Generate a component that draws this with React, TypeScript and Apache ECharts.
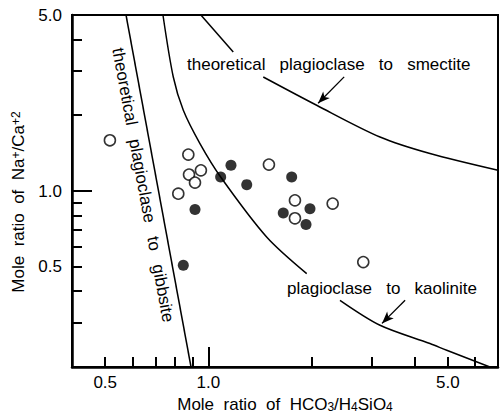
import React, { useEffect, useRef } from 'react';
import * as echarts from 'echarts';

// Open circles (Mole ratio HCO3/H4SiO4 vs Na+/Ca+2)
const openX = [0.516, 0.874, 0.951, 0.878, 0.914, 0.817, 1.502, 1.789, 1.789, 2.305, 2.831];
const openY = [1.59, 1.395, 1.208, 1.162, 1.08, 0.976, 1.273, 0.918, 0.779, 0.891, 0.522];
// Filled circles
const filledX = [1.086, 1.164, 1.294, 1.75, 0.914, 1.654, 1.979, 1.927, 0.845];
const filledY = [1.137, 1.265, 1.06, 1.137, 0.844, 0.818, 0.851, 0.736, 0.507];

// Theoretical curves
const gibbsiteX = [0.575, 0.89];
const gibbsiteY = [5.0, 0.2];
const kaoliniteUpperX = [0.737, 0.79, 0.845, 0.945, 1.086, 1.479, 1.936];
const kaoliniteUpperY = [5.0, 2.836, 2.092, 1.543, 1.137, 0.657, 0.47];
const kaoliniteLowerX = [2.421, 3.168, 4.432, 4.96, 6.63];
const kaoliniteLowerY = [0.368, 0.293, 0.248, 0.233, 0.2];
const smectiteUpperX = [0.951, 1.182];
const smectiteUpperY = [5.0, 3.565];
const smectiteLowerX = [1.446, 2.07, 3.168, 4.432, 7.0];
const smectiteLowerY = [2.836, 2.19, 1.638, 1.408, 1.208];

// Arrows (tail -> head)
const smectiteArrow = [[2.49, 2.84], [2.09, 2.23]];
const kaoliniteArrow = [[3.75, 0.368], [3.21, 0.298]];

// Axes
const xMin = 0.4;
const xMax = 7;
const yMin = 0.2;
const yMax = 5;
const xLabelValues = [0.5, 1, 5];
const yLabelValues = [0.5, 1, 5];
const xMinorTicks = [0.5, 0.6, 0.7, 0.8, 0.9, 2, 3, 4, 5, 6];
const yMinorTicks = [0.3, 0.4, 0.5, 0.6, 0.7, 0.8, 0.9, 2, 3, 4];
const majorTicks = [1];

const FONT = '"Liberation Sans", Arial, Helvetica, sans-serif';

const zip = (xs: number[], ys: number[]) => xs.map((x, i) => [x, ys[i]]);

export default function App() {
  const ref = useRef<HTMLDivElement>(null);
  useEffect(() => {
    if (!ref.current) return;
    const chart = echarts.init(ref.current, undefined, { renderer: 'svg' });
    const lineBase = {
      type: 'line',
      showSymbol: false,
      symbol: 'none',
      smooth: 0.3,
      silent: true,
      xAxisIndex: 0,
      yAxisIndex: 0,
      lineStyle: { color: '#000', width: 1.5 },
      z: 3,
    };
    const axisCommon = {
      type: 'log',
      logBase: 10,
      splitLine: { show: false },
      minorTick: { show: false },
    };
    chart.setOption({
      animation: false,
      backgroundColor: '#fff',
      grid: {
        left: 72,
        right: 3,
        top: 15,
        bottom: 50,
        show: true,
        borderColor: '#000',
        borderWidth: 2,
        outerBoundsMode: 'none',
      },
      xAxis: [
        {
          ...axisCommon,
          min: xMin,
          max: xMax,
          position: 'bottom',
          axisLine: { show: true, lineStyle: { color: '#000', width: 2.5 } },
          axisTick: {
            show: true,
            inside: true,
            length: 10,
            customValues: xMinorTicks,
            lineStyle: { color: '#000', width: 2 },
          },
          axisLabel: {
            show: true,
            customValues: xLabelValues,
            formatter: (v: number) => Number(v).toFixed(1),
            color: '#000',
            fontSize: 17,
            fontFamily: FONT,
            margin: 7,
          },
          name: 'Mole  ratio  of  HCO{sub|3}/H{sub|4}SiO{sub|4}',
          nameLocation: 'middle',
          nameGap: 28,
          nameTextStyle: {
            color: '#000',
            fontSize: 17,
            fontFamily: FONT,
            rich: {
              sub: { fontSize: 12, fontFamily: FONT, color: '#000', verticalAlign: 'bottom', lineHeight: 8 },
            },
          },
        },
        {
          ...axisCommon,
          min: xMin,
          max: xMax,
          position: 'bottom',
          axisLine: { show: false },
          axisLabel: { show: false },
          axisTick: {
            show: true,
            inside: true,
            length: 20,
            customValues: majorTicks,
            lineStyle: { color: '#000', width: 2 },
          },
        },
      ],
      yAxis: [
        {
          ...axisCommon,
          min: yMin,
          max: yMax,
          position: 'left',
          axisLine: { show: true, lineStyle: { color: '#000', width: 2.5 } },
          axisTick: {
            show: true,
            inside: true,
            length: 10,
            customValues: yMinorTicks,
            lineStyle: { color: '#000', width: 2 },
          },
          axisLabel: {
            show: true,
            customValues: yLabelValues,
            formatter: (v: number) => Number(v).toFixed(1),
            color: '#000',
            fontSize: 17,
            fontFamily: FONT,
            margin: 10,
          },
          name: 'Mole  ratio  of  Na{sup|+}/Ca{sup|+2}',
          nameLocation: 'middle',
          nameGap: 36,
          nameTextStyle: {
            color: '#000',
            fontSize: 17,
            fontFamily: FONT,
            padding: [0, 22, 0, 0],
            rich: {
              sup: { fontSize: 12, fontFamily: FONT, color: '#000', verticalAlign: 'top', lineHeight: 8 },
            },
          },
        },
        {
          ...axisCommon,
          min: yMin,
          max: yMax,
          position: 'left',
          axisLine: { show: false },
          axisLabel: { show: false },
          axisTick: {
            show: true,
            inside: true,
            length: 20,
            customValues: majorTicks,
            lineStyle: { color: '#000', width: 2 },
          },
        },
      ],
      series: [
        { ...lineBase, name: 'gibbsite', smooth: false, data: zip(gibbsiteX, gibbsiteY) },
        { ...lineBase, name: 'kaolinite-upper', data: zip(kaoliniteUpperX, kaoliniteUpperY) },
        {
          ...lineBase,
          name: 'kaolinite-lower',
          data: zip(kaoliniteLowerX, kaoliniteLowerY),
          markLine: {
            silent: true,
            symbol: ['none', 'arrow'],
            symbolSize: [7, 12],
            label: { show: false },
            lineStyle: { color: '#000', width: 1.3, type: 'solid' },
            data: [[{ coord: kaoliniteArrow[0] }, { coord: kaoliniteArrow[1] }]],
          },
        },
        { ...lineBase, name: 'smectite-upper', smooth: false, data: zip(smectiteUpperX, smectiteUpperY) },
        {
          ...lineBase,
          name: 'smectite-lower',
          data: zip(smectiteLowerX, smectiteLowerY),
          markLine: {
            silent: true,
            symbol: ['none', 'arrow'],
            symbolSize: [7, 12],
            label: { show: false },
            lineStyle: { color: '#000', width: 1.3, type: 'solid' },
            data: [[{ coord: smectiteArrow[0] }, { coord: smectiteArrow[1] }]],
          },
        },
        {
          type: 'scatter',
          name: 'open',
          symbol: 'circle',
          symbolSize: 11,
          itemStyle: { color: '#fff', borderColor: '#000', borderWidth: 1.6 },
          data: zip(openX, openY),
          z: 4,
        },
        {
          type: 'scatter',
          name: 'filled',
          symbol: 'circle',
          symbolSize: 11,
          itemStyle: { color: '#000' },
          data: zip(filledX, filledY),
          z: 4,
        },
      ],
      graphic: [
        {
          type: 'text',
          x: 187,
          y: 64,
          z: 10,
          style: {
            text: 'theoretical   plagioclase   to   smectite',
            fontSize: 17,
            fontFamily: FONT,
            fill: '#000',
            align: 'left',
            verticalAlign: 'middle',
          },
        },
        {
          type: 'text',
          x: 287,
          y: 288,
          z: 10,
          style: {
            text: 'plagioclase   to   kaolinite',
            fontSize: 17,
            fontFamily: FONT,
            fill: '#000',
            align: 'left',
            verticalAlign: 'middle',
          },
        },
        {
          type: 'text',
          x: 143,
          y: 185,
          rotation: (-79.5 * Math.PI) / 180,
          z: 10,
          style: {
            text: 'theoretical   plagioclase   to   gibbsite',
            fontSize: 17,
            fontFamily: FONT,
            fill: '#000',
            align: 'center',
            verticalAlign: 'middle',
          },
        },
      ],
    });
    return () => chart.dispose();
  }, []);
  return (
    <div
      ref={ref}
      style={{ position: 'absolute', left: 0, top: 0, width: 501, height: 417, background: '#fff' }}
    />
  );
}
